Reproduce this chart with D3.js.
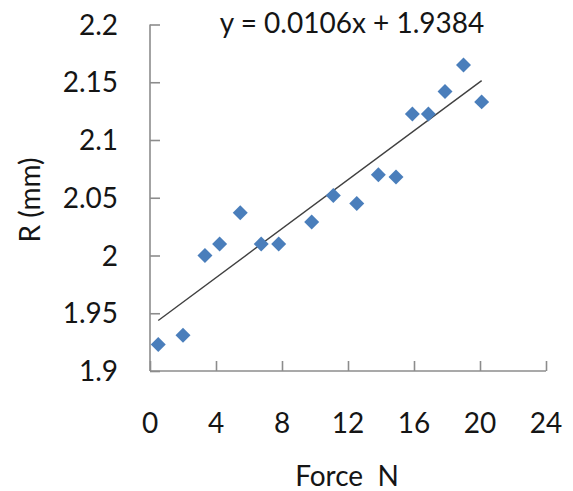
<!DOCTYPE html>
<html>
<head>
<meta charset="utf-8">
<script src="https://cdn.jsdelivr.net/npm/d3@7"></script>
<style>
  html, body { margin: 0; padding: 0; background: #fff; }
  svg text { font-family: Lato, "Open Sans", sans-serif; fill: #151515; }
</style>
</head>
<body>
<svg id="chart" width="573" height="491"></svg>
<script>
// Measured radius R against applied force
const forceN = [0.5, 2.0, 3.33, 4.22, 5.47, 6.74, 7.8, 9.8, 11.11, 12.53, 13.84, 14.91, 15.9, 16.87, 17.88, 19.0, 20.1];
const radiusMm = [1.923, 1.931, 2.0, 2.010, 2.037, 2.010, 2.010, 2.029, 2.052, 2.045, 2.070, 2.068, 2.1225, 2.1225, 2.142, 2.165, 2.133];

// Linear fit y = slope * x + intercept
const slope = 0.0106;
const intercept = 1.9384;

const xTicks = [0, 4, 8, 12, 16, 20, 24];
const yTicks = [1.9, 1.95, 2, 2.05, 2.1, 2.15, 2.2];

const svg = d3.select("#chart");

const x = d3.scaleLinear().domain([0, 24]).range([150, 546]);
const y = d3.scaleLinear().domain([1.9, 2.2]).range([371, 24.5]);

const axisColor = "#8c8c8c";
const fontSize = 28;

// Y axis: ticks point into the plot
const yAxis = svg.append("g")
  .attr("transform", `translate(${x(0)},0)`)
  .call(d3.axisRight(y).tickValues(yTicks).tickSize(10).tickFormat(""));
yAxis.select(".domain").attr("stroke", axisColor).attr("stroke-width", 1.6).attr("d", `M0,${y(2.2)}V${y(1.9)}`);
yAxis.selectAll(".tick line").attr("stroke", axisColor).attr("stroke-width", 1.6);

// X axis: ticks point up into the plot
const xAxis = svg.append("g")
  .attr("transform", `translate(0,${y(1.9)})`)
  .call(d3.axisTop(x).tickValues(xTicks).tickSize(10).tickFormat(""));
xAxis.select(".domain").attr("stroke", axisColor).attr("stroke-width", 1.6).attr("d", `M${x(0)},0H${x(24)}`);
xAxis.selectAll(".tick line").attr("stroke", axisColor).attr("stroke-width", 1.6);

// Tick labels
svg.append("g").selectAll("text")
  .data(yTicks)
  .join("text")
  .attr("x", 118)
  .attr("y", d => y(d))
  .attr("dy", "0.36em")
  .attr("text-anchor", "end")
  .attr("font-size", fontSize)
  .text(d => d3.format("")(d));

svg.append("g").selectAll("text")
  .data(xTicks)
  .join("text")
  .attr("x", d => x(d))
  .attr("y", 433)
  .attr("text-anchor", "middle")
  .attr("font-size", fontSize)
  .text(d => d);

// Axis titles
svg.append("text")
  .attr("transform", "translate(40,200) rotate(-90)")
  .attr("text-anchor", "middle")
  .attr("font-size", fontSize)
  .text("R (mm)");

svg.append("text")
  .attr("x", 347)
  .attr("y", 486)
  .attr("text-anchor", "middle")
  .attr("font-size", fontSize)
  .style("white-space", "pre")
  .text("Force  N");

// Trend line across the measured force range
const [xMin, xMax] = d3.extent(forceN);
svg.append("line")
  .attr("x1", x(xMin)).attr("y1", y(slope * xMin + intercept))
  .attr("x2", x(xMax)).attr("y2", y(slope * xMax + intercept))
  .attr("stroke", "#404040")
  .attr("stroke-width", 1.4);

// Data markers (diamonds)
const diamond = d3.symbol().type(d3.symbolSquare).size(112);
svg.append("g").selectAll("path")
  .data(forceN.map((f, i) => [f, radiusMm[i]]))
  .join("path")
  .attr("d", diamond)
  .attr("transform", d => `translate(${x(d[0])},${y(d[1])}) rotate(45)`)
  .attr("fill", "#4a7ebb");

// Regression equation
svg.append("text")
  .attr("x", 352)
  .attr("y", 33)
  .attr("text-anchor", "middle")
  .attr("font-size", fontSize)
  .text(`y = ${slope}x + ${intercept}`);
</script>
</body>
</html>
